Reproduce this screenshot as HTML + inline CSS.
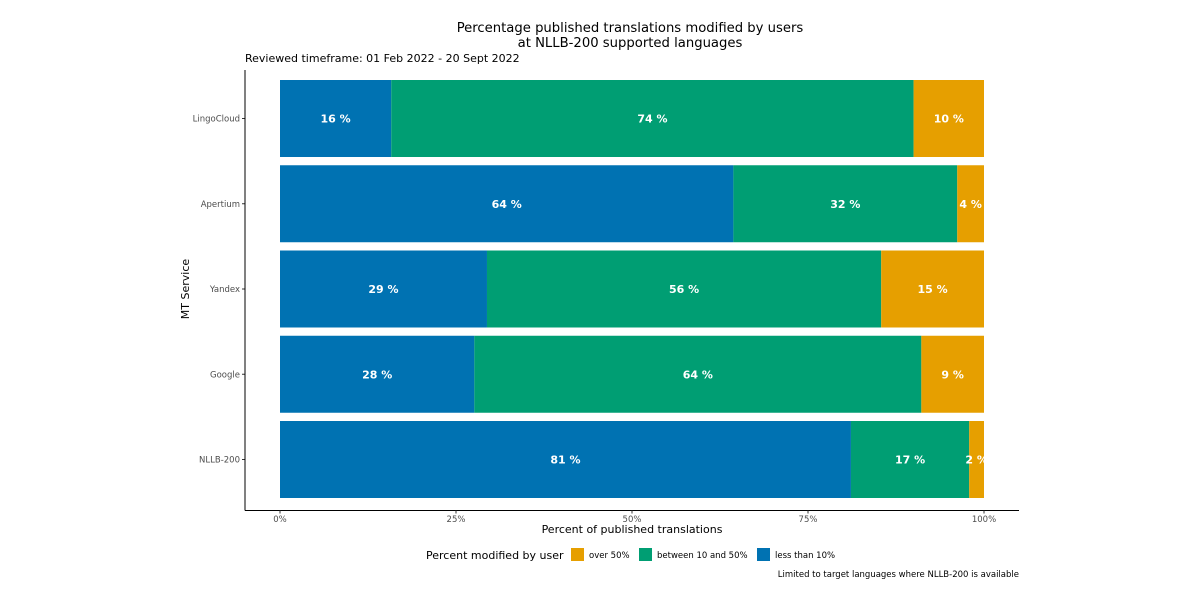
<!DOCTYPE html>
<html><head><meta charset="utf-8"><style>
body{margin:0;background:#fff}
svg{display:block;font-family:"DejaVu Sans","Liberation Sans",sans-serif}
</style></head><body>
<svg id="chart" width="1200" height="600">
<text x="630" y="32" font-size="13.2" text-anchor="middle">Percentage published translations modified by users</text>
<text x="630" y="47" font-size="13.2" text-anchor="middle">at NLLB-200 supported languages</text>
<text x="245" y="62" font-size="11">Reviewed timeframe: 01 Feb 2022 - 20 Sept 2022</text>
<g id="bars"></g>
<g id="axes"></g>
<text x="632" y="533" font-size="11" text-anchor="middle">Percent of published translations</text>
<text transform="translate(189,289) rotate(-90)" font-size="11" text-anchor="middle">MT Service</text>
<g>
<text x="426" y="559" font-size="11">Percent modified by user</text>
<rect x="571" y="548" width="13" height="13" fill="#E69F00"/>
<text x="589" y="558" font-size="8.5">over 50%</text>
<rect x="639" y="548" width="13" height="13" fill="#009E73"/>
<text x="657" y="558" font-size="8.5">between 10 and 50%</text>
<rect x="757" y="548" width="13" height="13" fill="#0072B2"/>
<text x="775" y="558" font-size="8.5">less than 10%</text>
</g>
<text x="1019" y="577" font-size="8.5" text-anchor="end">Limited to target languages where NLLB-200 is available</text>
</svg>
<script>
const categories=["LingoCloud","Apertium","Yandex","Google","NLLB-200"];
const lessThan10=[15.8,64.4,29.4,27.6,81.1];
const between10and50=[74.2,31.8,56.0,63.5,16.8];
const over50=[10.0,3.8,14.6,8.9,2.1];
const xTicks=[0,25,50,75,100];
const xTickLabels=["0%","25%","50%","75%","100%"];
const NS="http://www.w3.org/2000/svg";
const x=v=>280+v*7.04;
const bandTop=i=>80+i*85.25, bandH=77;
function mk(tag,attrs,parent){const e=document.createElementNS(NS,tag);for(const k in attrs)e.setAttribute(k,attrs[k]);parent.appendChild(e);return e;}
const bars=document.getElementById('bars'), axes=document.getElementById('axes');
const series=[[lessThan10,"#0072B2","less-10"],[between10and50,"#009E73","between"],[over50,"#E69F00","over-50"]];
categories.forEach((c,i)=>{
  let cum=0;
  series.forEach(([vals,col,nm])=>{
    const v=vals[i];
    const r=mk('rect',{x:x(cum),y:bandTop(i),width:x(cum+v)-x(cum),height:bandH,fill:col},bars);
    
    
    const t=mk('text',{x:(x(cum)+x(cum+v))/2,y:bandTop(i)+bandH/2+4,'font-size':11,'font-weight':'bold',fill:'#fff','text-anchor':'middle'},bars);
    t.textContent=Math.round(v)+" %";
    
    
    cum+=v;
  });
  const ty=bandTop(i)+bandH/2;
  mk('line',{x1:242,x2:245,y1:ty,y2:ty,stroke:'#333'},axes);
  const yl=mk('text',{x:240,y:ty+3,'font-size':8.5,fill:'#4d4d4d','text-anchor':'end'},axes);
  yl.textContent=c;
  
  
});
mk('line',{x1:245,x2:245,y1:70,y2:510.5,stroke:'#000'},axes);
mk('line',{x1:245,x2:1019,y1:510.5,y2:510.5,stroke:'#000'},axes);
xTicks.forEach((v,i)=>{
  mk('line',{x1:x(v),x2:x(v),y1:510.5,y2:513.5,stroke:'#333'},axes);
  const t=mk('text',{x:x(v),y:522,'font-size':8.5,fill:'#4d4d4d','text-anchor':'middle'},axes);
  t.textContent=xTickLabels[i];
  
  
});
</script>
</body></html>
